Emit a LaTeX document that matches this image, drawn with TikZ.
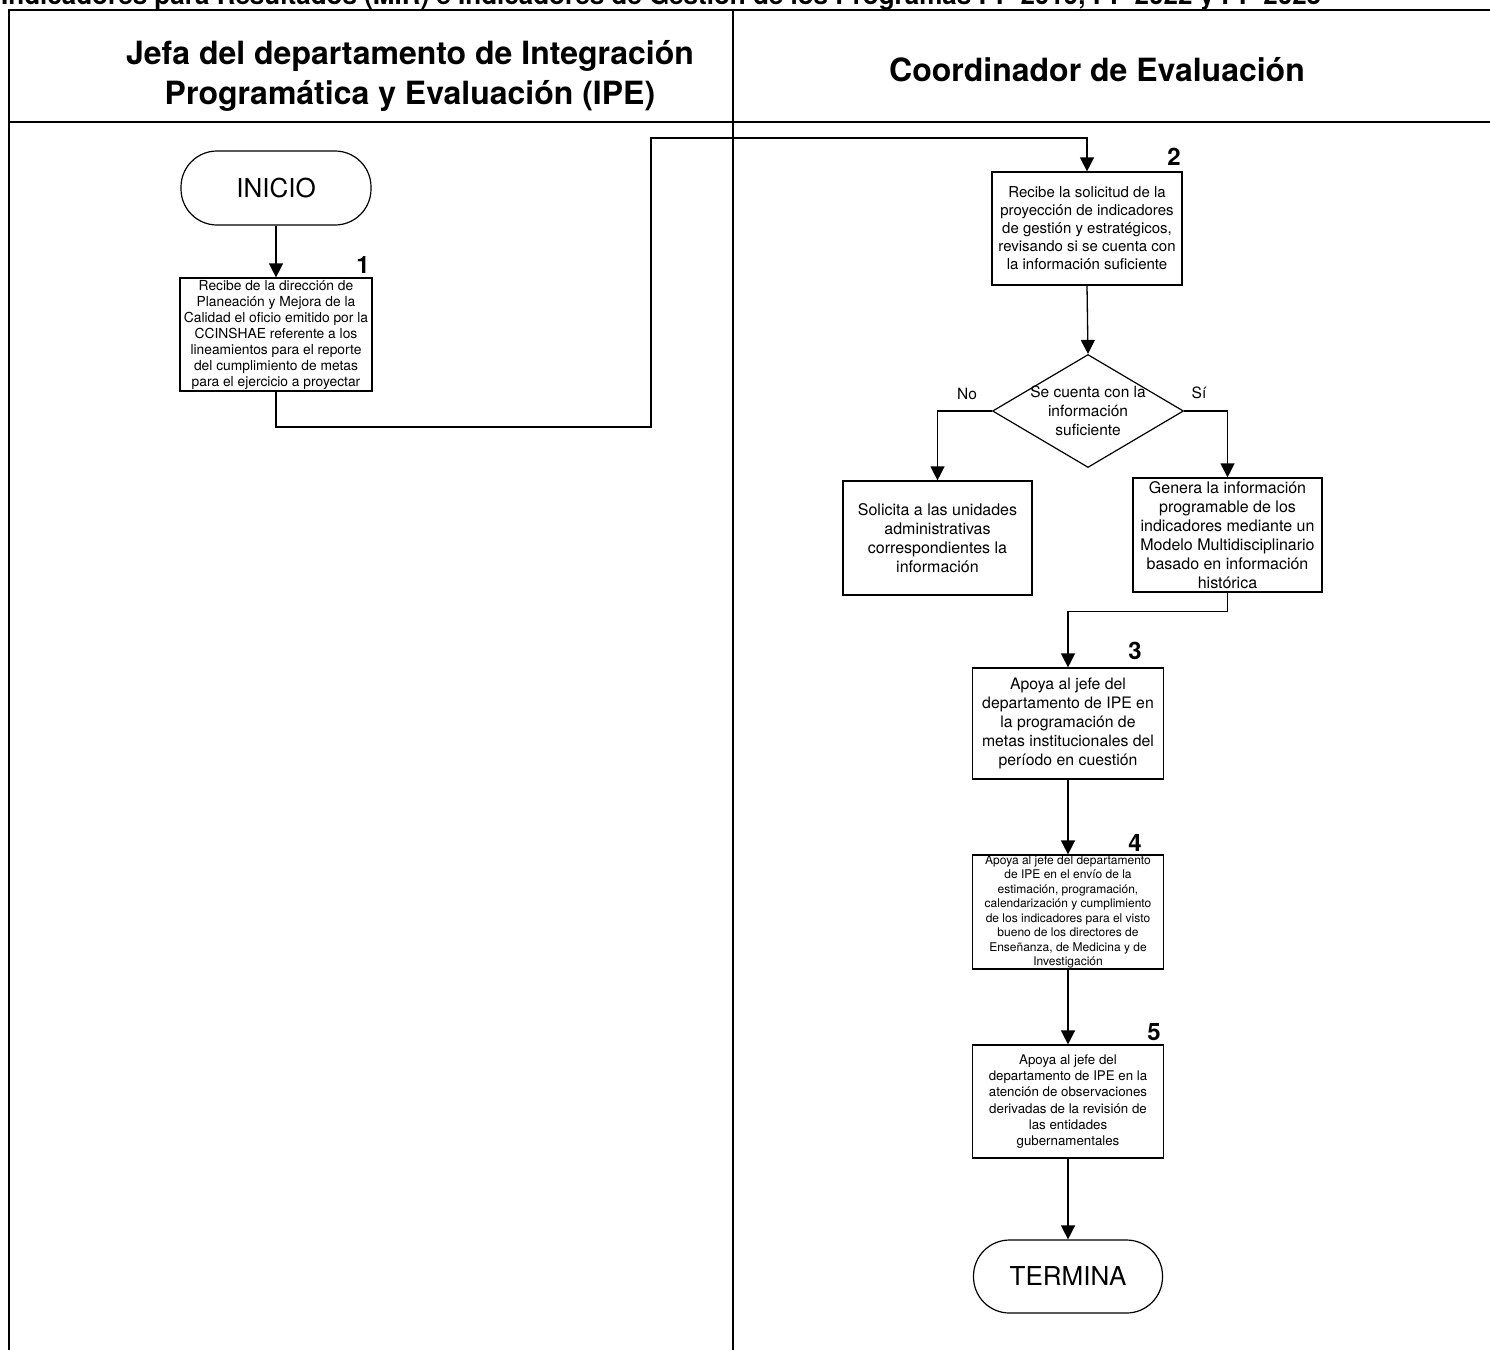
\documentclass[tikz,border=0pt]{standalone}
\usepackage{fontspec}
\setmainfont{TeX Gyre Heros}
\usetikzlibrary{arrows.meta,shapes.geometric}

\begin{document}
\begin{tikzpicture}[x=1pt,y=-1pt,
  frame/.style={line width=2.8pt, line cap=rect},
  box/.style={draw, line width=1.2pt, inner sep=0pt, align=center,
    font=\fontsize{16}{19}\selectfont},
  term/.style={draw, line width=1.2pt, rounded corners=36pt, inner sep=0pt,
    font=\fontsize{26}{30}\selectfont},
  decision/.style={draw, diamond, line width=1.2pt, inner sep=0pt},
  txt/.style={align=center, inner sep=0pt, font=\fontsize{15.5}{19}\selectfont},
  num/.style={inner sep=0pt, font=\bfseries\fontsize{24}{24}\selectfont},
  head/.style={align=center, inner sep=0pt, font=\bfseries\fontsize{32}{40}\selectfont},
  link/.style={line width=1.3pt},
  arr/.style={link, -{Triangle[length=14pt,width=14pt]}}]

\useasboundingbox (0,0) rectangle (1490,1349);
\clip (0,0) rectangle (1490,1349);

% running title, cut by the page top
\node[anchor=base west, inner sep=0pt, font=\bfseries\fontsize{26}{30}\selectfont]
  (title) at (1,5) {Indicadores para Resultados (MIR) e Indicadores de Gestión de los Programas PP 2019, PP 2022 y PP 2023};

% swimlane table
\draw[frame] (1490,10) -- (9,10) -- (9,1352);
\draw[frame] (733,10) -- (733,1352);
\draw[frame] (9,122) -- (1490,122);

\node[head] (laneA) at (410,76) {Jefa del departamento de Integración\\Programática y Evaluación (IPE)};
\node[head] (laneB) at (1097,70) {Coordinador de Evaluación};

% left lane
\node[term, minimum width=190pt, minimum height=74pt] (inicio) at (276,188) {INICIO};
\node[box, minimum width=192pt, minimum height=113pt, font=\fontsize{13.8}{16}\selectfont] (b1) at (276,334.5)
  {Recibe de la dirección de\\Planeación y Mejora de la\\Calidad el oficio emitido por la\\CCINSHAE referente a los\\lineamientos para el reporte\\del cumplimiento de metas\\para el ejercicio a proyectar};
\node[num] (n1) at (363,265) {1};

% right lane
\node[box, minimum width=190pt, minimum height=113pt, font=\fontsize{15}{18}\selectfont] (b2) at (1087,228.5)
  {Recibe la solicitud de la\\proyección de indicadores\\de gestión y estratégicos,\\revisando si se cuenta con\\la información suficiente};
\node[num] (n2) at (1174,157) {2};

\node[decision, minimum width=191pt, minimum height=113pt] (dec) at (1088,411) {};
\node[txt] (dectxt) at (dec.center) {Se cuenta con la\\información\\suficiente};
\node[txt] (no) at (967,394) {No};
\node[txt] (si) at (1199,393) {Sí};

\node[box, minimum width=189pt, minimum height=114pt] (sol) at (937.5,538)
  {Solicita a las unidades\\administrativas\\correspondientes la\\información};
\node[box, minimum width=189pt, minimum height=114pt] (gen) at (1227.5,535)
  {Genera la información\\programable de los\\indicadores mediante un\\Modelo Multidisciplinario\\basado en información\\histórica};

\node[box, minimum width=191pt, minimum height=111pt, font=\fontsize{15.8}{19}\selectfont] (b3) at (1068,723.5)
  {Apoya al jefe del\\departamento de IPE en\\la programación de\\metas institucionales del\\período en cuestión};
\node[num] (n3) at (1135,651) {3};

\node[box, minimum width=191pt, minimum height=114pt, font=\fontsize{12}{14.5}\selectfont] (b4) at (1068,912)
  {Apoya al jefe del departamento\\de IPE en el envío de la\\estimación, programación,\\calendarización y cumplimiento\\de los indicadores para el visto\\bueno de los directores de\\Enseñanza, de Medicina y de\\Investigación};
\node[num] (n4) at (1135,843) {4};

\node[box, minimum width=191pt, minimum height=113pt, font=\fontsize{13.3}{16.2}\selectfont] (b5) at (1068,1101.5)
  {Apoya al jefe del\\departamento de IPE en la\\atención de observaciones\\derivadas de la revisión de\\las entidades\\gubernamentales};
\node[num] (n5) at (1154,1032) {5};

\node[term, minimum width=189pt, minimum height=73pt] (termina) at (1068,1276.5) {TERMINA};

% connectors
\coordinate (c1) at (651,427);
\coordinate (c2) at (651,138);
\draw[arr] (inicio.south) -- (b1.north);
\draw[arr] (b1.south) |- (c1) -- (c2) -| (b2.north);
\draw[arr] (b2.south) -- (dec.north);
\draw[arr] (dec.west) -| (sol.north);
\draw[arr] (dec.east) -| (gen.north);
\draw[arr] (gen.south) -- ++(0,19) -| (b3.north);
\draw[arr] (b3.south) -- (b4.north);
\draw[arr] (b4.south) -- (b5.north);
\draw[arr] (b5.south) -- (termina.north);
\end{tikzpicture}
\end{document}
